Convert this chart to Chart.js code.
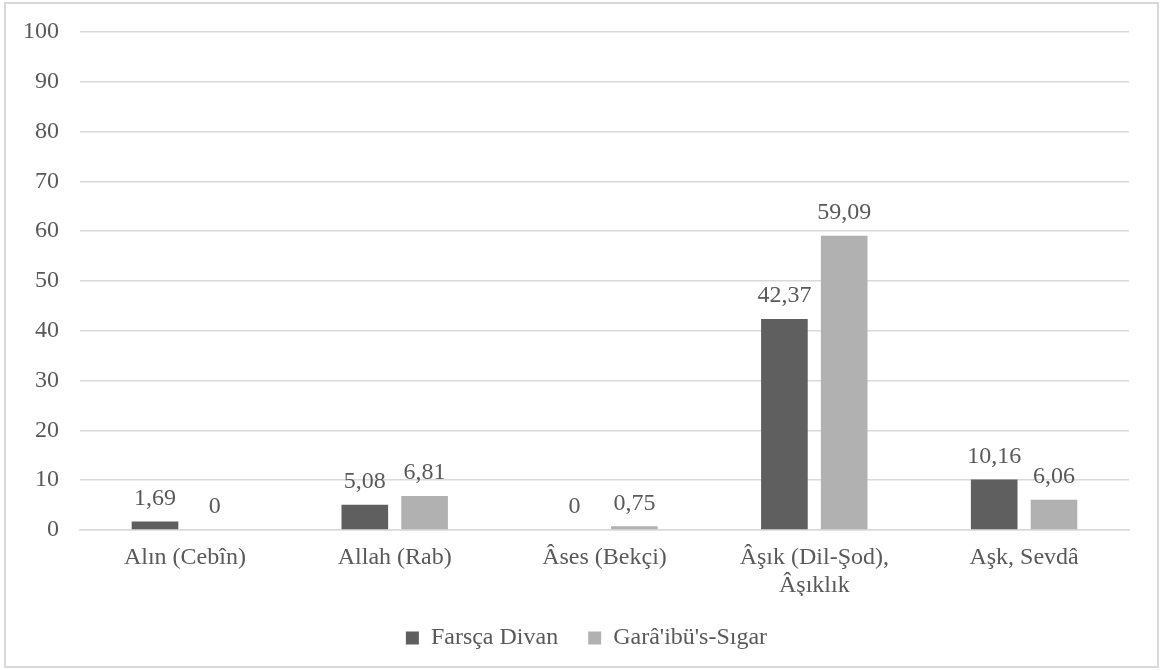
<!DOCTYPE html>
<html>
<head>
<meta charset="utf-8">
<script src="https://cdn.jsdelivr.net/npm/chart.js@4/dist/chart.umd.min.js"></script>
<style>
  html, body { margin: 0; padding: 0; background: #fff; }
  #wrap { width: 1165px; height: 670px; position: relative; }
</style>
</head>
<body>
<div id="wrap"><canvas id="chart"></canvas></div>
<script>
const categories = [
  "Alın (Cebîn)",
  "Allah (Rab)",
  "Âses (Bekçi)",
  ["Âşık (Dil-Şod),", "Âşıklık"],
  "Aşk, Sevdâ"
];
const farscaDivan = [1.69, 5.08, 0, 42.37, 10.16];
const garaibusSigar = [0, 6.81, 0.75, 59.09, 6.06];
const yTicks = [0, 10, 20, 30, 40, 50, 60, 70, 80, 90, 100];

const textColor = "#595959";
const gridColor = "#d9d9d9";
const fontFamily = "'Liberation Serif', 'Times New Roman', serif";
const fontSize = 24;

// frame around the whole chart
const framePlugin = {
  id: "frame",
  beforeDraw(chart) {
    const c = chart.ctx;
    c.save();
    c.fillStyle = "#fff";
    c.fillRect(0, 0, chart.width, chart.height);
    c.strokeStyle = gridColor;
    c.lineWidth = 2;
    c.strokeRect(5, 3, 1153, 664);
    c.restore();
  }
};

// legend sits a bit right of the canvas centre in the original
const legendShift = {
  id: "legendShift",
  afterLayout(chart) {
    chart.legend.left += 22;
    chart.legend.right += 22;
  }
};

// value labels above the bars
const valueLabels = {
  id: "valueLabels",
  afterDatasetsDraw(chart) {
    const c = chart.ctx;
    c.save();
    c.font = fontSize + "px " + fontFamily;
    c.fillStyle = textColor;
    c.textAlign = "center";
    c.textBaseline = "middle";
    chart.data.datasets.forEach((ds, i) => {
      chart.getDatasetMeta(i).data.forEach((bar, j) => {
        const txt = String(ds.data[j]).replace(".", ",");
        c.fillText(txt, bar.x, bar.y - 23);
      });
    });
    c.restore();
  }
};

new Chart(document.getElementById("chart"), {
  type: "bar",
  data: {
    labels: categories,
    datasets: [
      {
        label: "Farsça Divan",
        data: farscaDivan,
        backgroundColor: "#5f5f5f",
        barPercentage: 0.78,
        categoryPercentage: 0.57
      },
      {
        label: "Garâ'ibü's-Sıgar",
        data: garaibusSigar,
        backgroundColor: "#b1b1b1",
        barPercentage: 0.78,
        categoryPercentage: 0.57
      }
    ]
  },
  options: {
    responsive: true,
    maintainAspectRatio: false,
    animation: false,
    layout: { padding: { left: 0, right: 36, top: 32, bottom: 10 } },
    scales: {
      x: {
        grid: { display: false, drawTicks: false },
        border: { color: gridColor, width: 1.5 },
        ticks: {
          color: textColor,
          padding: 13,
          maxRotation: 0,
          autoSkip: false,
          font: { family: fontFamily, size: fontSize }
        },
        afterFit(s) { s.height = 66; }
      },
      y: {
        min: 0,
        max: 100,
        afterBuildTicks(s) { s.ticks = yTicks.map(v => ({ value: v })); },
        grid: { color: gridColor, lineWidth: 1.5, drawTicks: false },
        border: { display: false },
        ticks: {
          color: textColor,
          padding: 21,
          font: { family: fontFamily, size: fontSize }
        },
        afterFit(s) {
          s.width = 80;
          s.paddingTop = 0;
          s.paddingBottom = 0;
        }
      }
    },
    plugins: {
      legend: {
        position: "bottom",
        labels: {
          color: textColor,
          boxWidth: 13,
          boxHeight: 13,
          padding: 30,
          font: { family: fontFamily, size: fontSize }
        }
      },
      tooltip: { enabled: false }
    }
  },
  plugins: [framePlugin, legendShift, valueLabels]
});
</script>
</body>
</html>
